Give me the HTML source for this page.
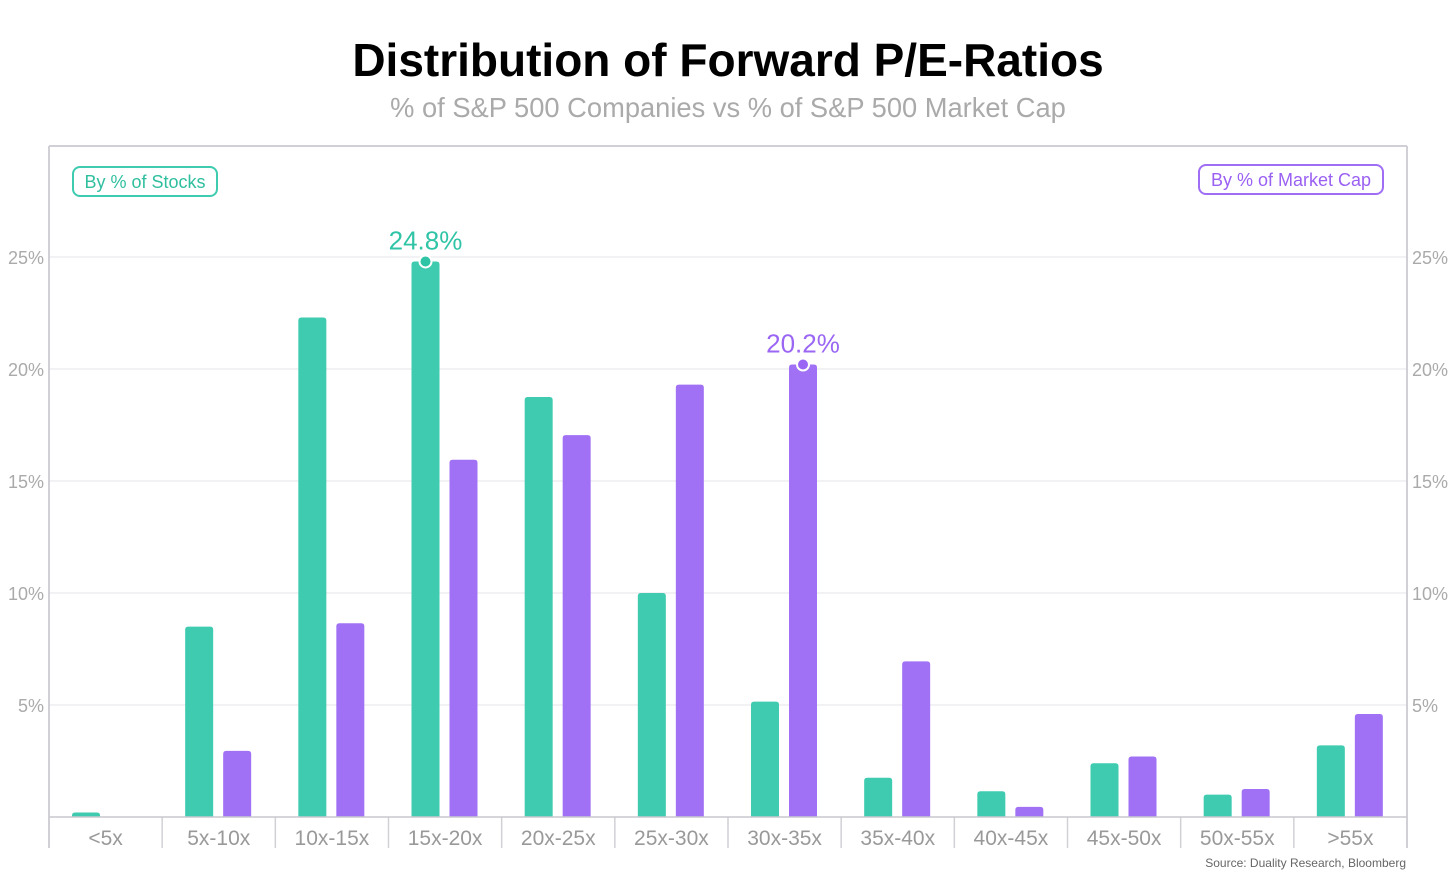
<!DOCTYPE html>
<html><head><meta charset="utf-8">
<style>
body{margin:0;background:#fff;width:1456px;height:874px;overflow:hidden;font-family:"Liberation Sans",sans-serif}
</style></head>
<body>
<svg id="chart" width="1456" height="874" xmlns="http://www.w3.org/2000/svg" font-family="Liberation Sans, sans-serif">
<text x="728" y="76" text-anchor="middle" font-size="46" font-weight="bold" fill="#000" letter-spacing="0">Distribution of Forward P/E-Ratios</text>
<text x="728" y="117" text-anchor="middle" font-size="27.3" fill="#aaa">% of S&amp;P 500 Companies vs % of S&amp;P 500 Market Cap</text>
<g id="grid"></g>
<g id="bars"></g>
<g id="frame">
<line x1="49" y1="146" x2="1407" y2="146" stroke="#d0d0d6" stroke-width="2"/>
<line x1="49" y1="146" x2="49" y2="848" stroke="#d0d0d6" stroke-width="2"/>
<line x1="1407" y1="146" x2="1407" y2="848" stroke="#d0d0d6" stroke-width="2"/>
<line x1="49" y1="817" x2="1407" y2="817" stroke="#c8c8ce" stroke-width="1.5"/>
</g>
<g>
<rect x="73" y="167" width="144" height="29" rx="7" fill="#fff" stroke="#3ecbb0" stroke-width="2"/>
<text x="145" y="188" text-anchor="middle" font-size="18" fill="#2fbf9f">By % of Stocks</text>
</g>
<g>
<rect x="1199" y="165" width="184" height="29" rx="7" fill="#fff" stroke="#a06ef5" stroke-width="2"/>
<text x="1291" y="186" text-anchor="middle" font-size="18" fill="#9a60f2">By % of Market Cap</text>
</g>
<text x="1406" y="867" text-anchor="end" font-size="12" fill="#666">Source: Duality Research, Bloomberg</text>
</svg>
<script>
const categories=["<5x","5x-10x","10x-15x","15x-20x","20x-25x","25x-30x","30x-35x","35x-40x","40x-45x","45x-50x","50x-55x",">55x"];
const stocksPct=[0.2,8.5,22.3,24.8,18.75,10.0,5.15,1.75,1.15,2.4,1.0,3.2];
const marketCapPct=[0,2.95,8.65,15.95,17.05,19.3,20.2,6.95,0.45,2.7,1.25,4.6];
const yTicks=[5,10,15,20,25];
const NS="http://www.w3.org/2000/svg";
const x0=49,x1=1407,yZero=817,yTop25=257;
const bw=(x1-x0)/categories.length;
function yScale(v){return yZero-v*(yZero-yTop25)/25;}
function xCat(i){return x0+i*bw;}
function mk(t,a,p){const e=document.createElementNS(NS,t);for(const k in a)e.setAttribute(k,a[k]);p.appendChild(e);return e;}
const grid=document.getElementById('grid'),bars=document.getElementById('bars');
yTicks.forEach(v=>{
 const y=yScale(v);
 const l=mk('line',{x1:x0,x2:x1,y1:y,y2:y,stroke:'#e6e6ea','stroke-width':1},grid);
 
 
 const tl=mk('text',{x:44,y:y+7,'text-anchor':'end','font-size':18,fill:'#aaa'},grid);tl.textContent=v+'%';
 
 
 const tr=mk('text',{x:1412,y:y+7,'text-anchor':'start','font-size':18,fill:'#aaa'},grid);tr.textContent=v+'%';
 
 
});
function bar(x,v,color,name){
 const y=yScale(v),h=yZero-y;if(h<=0)return;
 const r=Math.min(3,h);
 const p=mk('path',{d:`M${x},${yZero}V${y+r}Q${x},${y} ${x+r},${y}H${x+28-r}Q${x+28},${y} ${x+28},${y+r}V${yZero}Z`,fill:color},bars);
 
 
}
categories.forEach((c,i)=>{
 const cx=xCat(i);
 bar(cx+23,stocksPct[i],'#3ecbb0','bar-stocks-'+i);
 bar(cx+61,marketCapPct[i],'#a071f5','bar-marketcap-'+i);
 if(i>0){const t=mk('line',{x1:cx,x2:cx,y1:yZero,y2:848,stroke:'#d0d0d6','stroke-width':1.5},bars);
  
  }
 const lt=mk('text',{x:cx+bw/2,y:845,'text-anchor':'middle','font-size':21,fill:'#999'},bars);lt.textContent=c;
 
 
});
function annotate(arr,offset,color,name){
 let m=0;arr.forEach((v,i)=>{if(v>arr[m])m=i;});
 const x=xCat(m)+offset+14,y=yScale(arr[m]);
 const c=mk('circle',{cx:x,cy:y,r:6,fill:color,stroke:'#fff','stroke-width':2},bars);
 
 
 const t=mk('text',{x:x,y:y-12,'text-anchor':'middle','font-size':26,fill:color},bars);t.textContent=arr[m].toFixed(1)+'%';
 
 
}
annotate(stocksPct,23,'#2fc4a6','max-stocks');
annotate(marketCapPct,61,'#9a66f3','max-marketcap');
</script>
</body></html>
